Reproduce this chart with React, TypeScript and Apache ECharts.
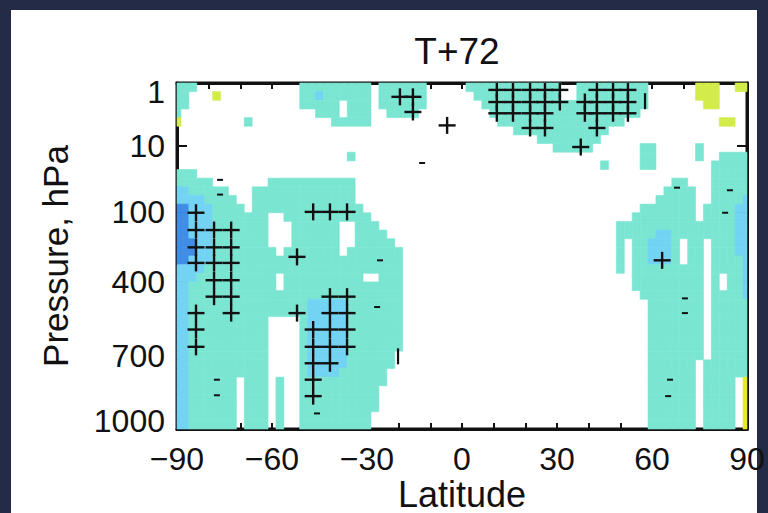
import React, { useEffect, useRef } from 'react';
import * as echarts from 'echarts';

// ---- axes ----
const latTicks = [-90, -60, -30, 0, 30, 60, 90];
const pressureLabels = ['1', '10', '100', '400', '700', '1000'];
const labelLevels = [1.0, 7.3, 14.9, 23.0, 31.6, 39.1]; // model-level position of each pressure label
const tickLevels = [7.3, 14.9, 23.0, 31.6];
const levelCount = 40;
const cellLat = 2.5;

// ---- field (difference classes) read row by row, top (1 hPa) to bottom (1000 hPa) ----
// column index i -> latitude -90 + 2.5 i ; codes: c cyan, l light blue, b blue, y yellow-green, Y yellow, w white
const codeValues: Record<string, number> = { w: 0, c: -1, l: -2, b: -3, y: 1, Y: 2 };
const fieldRuns = [
  '0-2c 16-24c 26-31c 37-48c 51-59c 66-68y 71-72y',
  '0-1c 5y 16-24c 18l 26-31c 38-48c 51-59c 66-68y',
  '0-1c 16-24c 21w 26-31c 39-59c 67-68y',
  '0c 18-24c 21w 27-30c 40-58c',
  '0y 9c 20-24c 41-56c 69-70y',
  '43-54c',
  '46-53c',
  '48-52c 59-60c 66c',
  '22c 59-60c 66c 69-72c',
  '54c 59-60c 68-72c',
  '0-2c 68-72c',
  '0-4c 12-22c 63-64c 68-72c',
  '0-6c 0-1l 10-22c 62-65c 68-72c',
  '0-7c 0-3l 10-22c 61-65c 68-72c 72l',
  '0-8c 0-1b 2-4l 10-23c 59-65c 67-70c 71-72l',
  '0-24c 0-1b 2-4l 12-13w 58-65c 67-70c 71-72l',
  '0-25c 0-1b 2-4l 12-14w 21-22w 56-70c 71-72l',
  '0-26c 0-1b 2-4l 12-14w 21-22w 56-70c 61-62l 71-72l',
  '0-27c 0-2b 3-4l 12-14w 21-22w 56c 58-72c 60-62l 64w 67w 71-72l',
  '0-28c 0-2b 3-4l 13w 21w 56c 58-72c 60-62l 64w 67w 71-72l',
  '0-28c 0-1b 2-4l 56c 58-72c 60-62l 64w 67w 72l',
  '0-28c 0-3l 56c 58-72c 67w 72l',
  '0-28c 0-2l 13w 24-25w 58-72c 67w 69w 72l',
  '0-28c 0-1l 13w 58-72c 67w 69w 72l',
  '0-28c 0-1l 59-72c 67w 72l',
  '0-28c 0-1l 17-21l 60-72c 67w',
  '0-28c 0-1l 17-21l 60-72c 67w',
  '0-28c 0-1l 12-15w 17-21l 60-72c 67w',
  '0-28c 0-1l 12-15w 17-21l 60-72c 67w',
  '0-28c 0-1l 12-15w 17-21l 60-72c 67w',
  '0-28c 0-1l 12-15w 17-21l 60-72c 67w',
  '0-27c 0-1l 12-15w 17-21l 60-72c 67w',
  '0-27c 0-1l 12-15w 17-21l 60-72c 66w',
  '0-26c 0-1l 12-15w 17-20l 60-72c 66w',
  '0-26c 0-1l 8w 12w 14-15w 60-72c 66w 71w 72Y',
  '0-25c 0-1l 8w 12w 14-15w 60-72c 66w 71w 72Y',
  '0-25c 0-1l 8w 12w 14-15w 60-72c 66w 71w 72Y',
  '0-25c 0-1l 8w 12w 14-15w 60-72c 66w 71w 72Y',
  '0-24c 0-1l 8w 12w 14-15w 60-72c 66w 71w 72Y',
  '0-24c 0-1l 8w 12w 14-15w 60-72c 66w 71w 72Y',
];

// ---- significance hatching: [latitude, level] ----
const hatchPoints = [
  [-84, 15.0], [-84, 17.0], [-84, 19.0], [-84, 20.8], [-84, 26.6], [-84, 28.5], [-84, 30.5],
  [-78.3, 17.0], [-78.3, 19.0], [-78.3, 20.8], [-78.3, 22.8], [-78.3, 24.7],
  [-72.9, 17.0], [-72.9, 19.0], [-72.9, 20.8], [-72.9, 22.8], [-72.9, 24.7], [-72.9, 26.6],
  [-47.0, 14.9], [-41.7, 14.9], [-36.3, 14.9],
  [-41.7, 24.7], [-36.3, 24.7], [-41.7, 26.6], [-36.3, 26.6],
  [-47.0, 28.5], [-41.7, 28.5], [-36.3, 28.5],
  [-47.0, 30.5], [-41.7, 30.5], [-36.3, 30.5],
  [-47.0, 32.4], [-41.7, 32.4], [-47.0, 34.3], [-47.0, 36.2],
  [-52.1, 20.1], [-52.1, 26.6],
  [-19.6, 1.6], [-15.5, 1.6], [-15.5, 3.35], [-4.7, 4.9],
  [11.0, 0.8], [16.1, 0.8], [21.5, 0.8], [26.2, 0.8], [30.9, 0.8], [42.6, 0.8], [47.7, 0.8], [52.4, 0.8],
  [11.0, 2.2], [16.1, 2.2], [21.5, 2.2], [26.2, 2.2], [30.9, 2.2], [38.8, 2.2], [42.6, 2.2], [47.7, 2.2], [52.4, 2.2],
  [11.0, 3.5], [16.1, 3.5], [21.5, 3.5], [26.2, 3.5], [38.8, 3.5], [42.6, 3.5], [47.7, 3.5], [52.4, 3.5],
  [21.5, 5.2], [26.2, 5.2], [42.6, 5.2], [37.5, 7.4],
  [63.2, 20.5],
];
const dashMarks = [
  [-76.4, 11.2], [-76.4, 12.9], [-12.6, 9.25], [67.9, 12.1], [84.6, 12.4], [83.1, 15.0],
  [70.4, 24.9], [70.4, 26.6], [65.7, 34.3], [65.1, 36.2], [-77.4, 34.3], [-77.4, 36.1],
  [-25.9, 20.5], [-26.8, 25.9], [-45.8, 38.2],
];
const barMarks = [[57.8, 2.1], [-20.2, 31.6]];

const classColors: Record<string, string> = {
  '-3': '#3f8de6',
  '-2': '#72d3f3',
  '-1': '#7ae6d2',
  '1': '#d3ec4a',
  '2': '#e6e82c',
};

function decodeField() {
  const out: number[][] = [];
  fieldRuns.forEach((row, r) => {
    const cols = new Array(73).fill(0);
    row.split(' ').forEach((tok) => {
      const m = tok.match(/^(\d+)(?:-(\d+))?([a-zA-Z])$/);
      if (!m) return;
      const a = +m[1];
      const b = m[2] ? +m[2] : a;
      for (let i = a; i <= b; i++) cols[i] = codeValues[m[3]];
    });
    cols.forEach((v, i) => {
      if (v !== 0) out.push([-90 + cellLat * i, r, v]);
    });
  });
  return out;
}

const FONT = '"Liberation Sans", Arial, Helvetica, sans-serif';
const INK = '#111111';
// chart panel sits inside the dark frame at (11, 10)
const GRID = { left: 166, top: 73, width: 570, height: 346 };

export default function App() {
  const ref = useRef<HTMLDivElement>(null);
  useEffect(() => {
    if (!ref.current) return;
    const chart = echarts.init(ref.current, null, { renderer: 'svg' });
    const field = decodeField();
    const mkLine = () => ({ show: true, onZero: false, lineStyle: { color: INK, width: 3 } });
    const mkTick = (length: number, extra: any = {}) => ({
      show: true, inside: true, length, ...extra, lineStyle: { color: INK, width: 2 },
    });
    const labelFor = (v: number) => {
      const i = labelLevels.findIndex((l) => Math.abs(l - v) < 0.01);
      return i >= 0 ? pressureLabels[i] : '';
    };
    chart.setOption({
      animation: false,
      backgroundColor: 'transparent',
      graphic: [
        {
          type: 'text', x: 446, y: 41,
          style: { text: 'T+72', font: `37px ${FONT}`, fill: INK, textAlign: 'center', textVerticalAlign: 'middle', align: 'center', verticalAlign: 'middle' },
        },
      ],
      grid: { ...GRID, containLabel: false, outerBoundsMode: 'none', show: true, borderColor: INK, borderWidth: 3, backgroundColor: 'transparent' },
      xAxis: [
        {
          type: 'value', min: -90, max: 90, interval: 10, position: 'bottom',
          axisLine: mkLine(), splitLine: { show: false },
          axisTick: mkTick(6),
          axisLabel: {
            margin: 14, fontSize: 32, color: INK, fontFamily: FONT,
            formatter: (v: number) => (latTicks.includes(v) ? String(v).replace('-', '\u2212') : ''),
          },
          name: 'Latitude', nameLocation: 'middle', nameGap: 47, nameMoveOverlap: false,
          nameTextStyle: { fontSize: 36, color: INK, fontFamily: FONT },
        },
        {
          type: 'value', min: -90, max: 90, interval: 10, position: 'top',
          axisLine: mkLine(), splitLine: { show: false },
          axisTick: mkTick(6),
          axisLabel: { show: false },
        },
      ],
      yAxis: [
        {
          type: 'value', min: 0, max: levelCount, inverse: true, position: 'left',
          axisLine: mkLine(), splitLine: { show: false },
          axisTick: mkTick(10, { customValues: tickLevels }),
          axisLabel: { customValues: labelLevels, formatter: labelFor, margin: 12, fontSize: 32, color: INK, fontFamily: FONT },
          name: 'Pressure, hPa', nameLocation: 'middle', nameGap: 104, nameRotate: 90, nameMoveOverlap: false,
          nameTextStyle: { fontSize: 35, color: INK, fontFamily: FONT },
        },
        {
          type: 'value', min: 0, max: levelCount, inverse: true, position: 'right',
          axisLine: mkLine(), splitLine: { show: false },
          axisTick: mkTick(10, { customValues: tickLevels }),
          axisLabel: { show: false },
        },
      ],
      series: [
        {
          type: 'custom', xAxisIndex: 0, yAxisIndex: 0, z: 2,
          encode: { x: 0, y: 1 },
          data: field,
          renderItem: (params: any, api: any) => {
            const lat = api.value(0), row = api.value(1), v = api.value(2);
            const a = api.coord([lat - cellLat / 2, row]);
            const b = api.coord([lat + cellLat / 2, row + 1]);
            const cs = params.coordSys;
            const x0 = Math.max(Math.min(a[0], b[0]), cs.x);
            const x1 = Math.min(Math.max(a[0], b[0]), cs.x + cs.width);
            const y0 = Math.max(Math.min(a[1], b[1]), cs.y);
            const y1 = Math.min(Math.max(a[1], b[1]), cs.y + cs.height);
            const col = classColors[String(v)] || '#fff';
            return {
              type: 'rect',
              shape: { x: x0, y: y0, width: x1 - x0, height: y1 - y0 },
              style: { fill: col, stroke: col, lineWidth: 0.6 },
            };
          },
        },
        {
          type: 'custom', xAxisIndex: 0, yAxisIndex: 0, z: 3, clip: true,
          encode: { x: 0, y: 1 },
          data: hatchPoints,
          renderItem: (params: any, api: any) => {
            const p = api.coord([api.value(0), api.value(1)]);
            const s = { stroke: INK, lineWidth: 2.4 };
            return {
              type: 'group',
              children: [
                { type: 'line', shape: { x1: p[0] - 8.5, y1: p[1], x2: p[0] + 8.5, y2: p[1] }, style: s },
                { type: 'line', shape: { x1: p[0], y1: p[1] - 8.5, x2: p[0], y2: p[1] + 8.5 }, style: s },
              ],
            };
          },
        },
        {
          type: 'custom', xAxisIndex: 0, yAxisIndex: 0, z: 3, clip: true,
          encode: { x: 0, y: 1 },
          data: dashMarks,
          renderItem: (params: any, api: any) => {
            const p = api.coord([api.value(0), api.value(1)]);
            return { type: 'line', shape: { x1: p[0] - 3, y1: p[1], x2: p[0] + 3, y2: p[1] }, style: { stroke: INK, lineWidth: 2 } };
          },
        },
        {
          type: 'custom', xAxisIndex: 0, yAxisIndex: 0, z: 3, clip: true,
          encode: { x: 0, y: 1 },
          data: barMarks,
          renderItem: (params: any, api: any) => {
            const p = api.coord([api.value(0), api.value(1)]);
            return { type: 'line', shape: { x1: p[0], y1: p[1] - 8, x2: p[0], y2: p[1] + 8 }, style: { stroke: INK, lineWidth: 2.2 } };
          },
        },
      ],
    });
    return () => chart.dispose();
  }, []);
  return (
    <div style={{ position: 'absolute', left: 0, top: 0, width: 768, height: 513, background: '#232b46', overflow: 'hidden' }}>
      <div style={{ position: 'absolute', left: 11, top: 10, width: 746, height: 503, background: '#ffffff' }} />
      <div ref={ref} style={{ position: 'absolute', left: 11, top: 10, width: 757, height: 503 }} />
    </div>
  );
}
